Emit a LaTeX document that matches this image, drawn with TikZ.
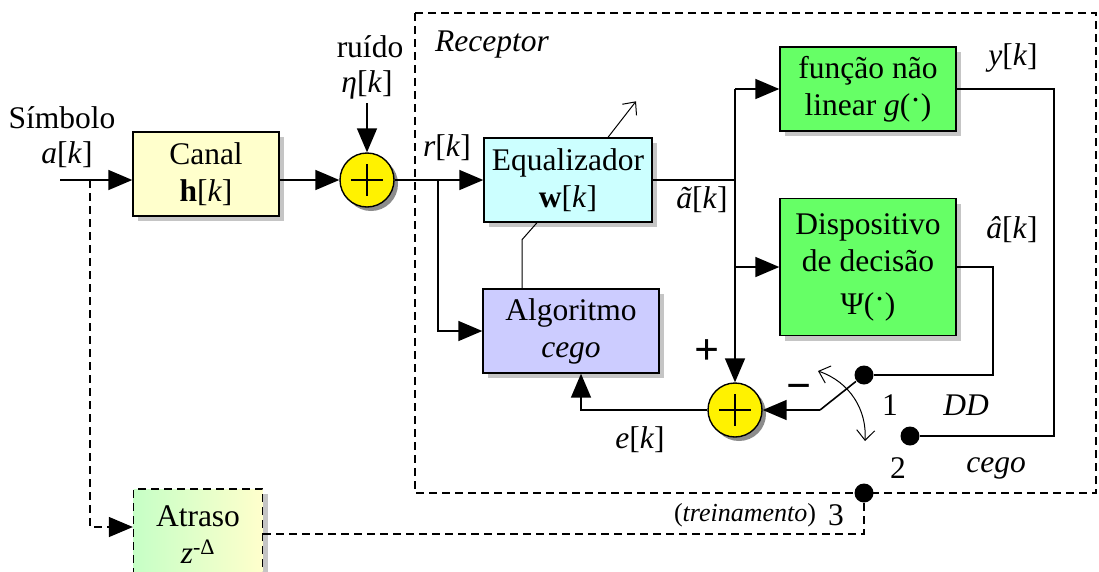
\documentclass[tikz,border=0pt]{standalone}
\usepackage{fontspec}
\setmainfont{Liberation Serif}
\usetikzlibrary{arrows.meta,shadows,calc}
\definecolor{canalc}{HTML}{FFFFCC}
\definecolor{eqc}{HTML}{CCFFFF}
\definecolor{algc}{HTML}{CCCCFF}
\definecolor{decc}{HTML}{66FF66}
\definecolor{atrl}{HTML}{C6FFC6}
\definecolor{atrr}{HTML}{FFFFCC}
\begin{document}
\begin{tikzpicture}[x=1pt,y=-1pt,
  every node/.style={font=\fontsize{31.5}{37}\selectfont},
  line width=1.6pt,
  >={Triangle[length=24pt,width=20pt]},
  blk/.style={draw,line width=1.4pt,align=center,inner sep=0pt,
    drop shadow={shadow xshift=5pt,shadow yshift=-5pt,fill=gray!90}},
  summ/.style={draw,circle,fill=yellow,minimum size=54pt,inner sep=0pt,line width=1.4pt,
    drop shadow={shadow xshift=4pt,shadow yshift=-4pt,fill=black!90}},
  dot/.style={circle,fill,inner sep=0pt,minimum size=19pt},
  thinl/.style={line width=1pt},
  dsh/.style={line width=1.3pt,dash pattern=on 8pt off 5pt}]
\useasboundingbox (0,0) rectangle (1099,571);
% receptor
\draw[dsh] (415,13) rectangle (1096,493);
\node (rec) at (492,45) {\textit{Receptor}};
% blocos
\node[blk,fill=canalc,minimum width=146pt,minimum height=84pt] (canal) at (206,174) {Canal\\\textbf{h}[\textit{k}]};
\node[summ] (s1) at (367,180) {};
\node[blk,fill=eqc,minimum width=168pt,minimum height=84pt] (eq) at (568,180) {Equalizador\\\textbf{w}[\textit{k}]};
\node[blk,fill=algc,minimum width=176pt,minimum height=84pt] (alg) at (571,331) {Algoritmo\\\textit{cego}};
\node[blk,fill=decc,minimum width=176pt,minimum height=84pt] (fnl) at (868,89) {função não\\linear \textit{g}(\raisebox{.3ex}{·})};
\node[blk,fill=decc,minimum width=176pt,minimum height=137pt] (dec) at (868,267) {Dispositivo\\de decisão\\[6pt]Ψ(\raisebox{.3ex}{·})};
\node[summ] (s2) at (735,410) {};
\node[blk,dsh,left color=atrl,right color=atrr,minimum width=129pt,minimum height=92pt] (atr) at (198,535) {Atraso\\\textit{z}\textsuperscript{-Δ}};
% sinais do somador
\foreach \s in {s1,s2}
  \draw[line width=1.2pt] (\s.center) +(-16,0) -- +(16,0) (\s.center) +(0,-16) -- +(0,16);
% rotulos
\node (simb) at (62,118) {Símbolo};
\node (ak) at (67,155) {\textit{a}[\textit{k}]};
\node (ruido) at (370,47) {ruído};
\node (eta) at (367,85) {\textit{η}[\textit{k}]};
\node (rk) at (447,148) {\textit{r}[\textit{k}]};
\node (atil) at (702,200) {\textit{ã}[\textit{k}]};
\node (yk) at (1013,58) {\textit{y}[\textit{k}]};
\node (ahat) at (1012,230) {\textit{â}[\textit{k}]};
\node[font=\fontsize{44}{44}\selectfont] (mais) at (707,352) {\textbf{+}};
\node[font=\fontsize{44}{44}\selectfont] (menos) at (799,392) {\textbf{−}};
\node (ek) at (640,440) {\textit{e}[\textit{k}]};
\node (n1) at (890,405) {1};
\node (dd) at (966,405) {\textit{DD}};
\node (n2) at (898,468) {2};
\node (cg) at (996,468) {\textit{cego}};
\node[font=\fontsize{26}{30}\selectfont] (trein) at (745,515) {(\textit{treinamento})};
\node (n3) at (836,515) {3};
% chave
\node[dot] (d1) at (864,375) {};
\node[dot] (d2) at (910,436) {};
\node[dot] (d3) at (864,493) {};
\coordinate (in) at (60,180);
\coordinate (br0) at (90,180);
\coordinate (br1) at (438,180);
\coordinate (br2) at (735,180);
\coordinate (c1) at (993,375);
\coordinate (c2) at (1054,436);
\coordinate (sw) at (820,410);
\coordinate (ca) at (818,371);
\coordinate (cb) at (865,441);
\coordinate (ain) at (90,527);
\coordinate (aout) at (864,534);
% ligacoes
\draw[->] (in) -- (canal.west |- in);
\draw[->] (canal.east |- in) -- (s1.west);
\draw[->] (eta) -- (s1.north);
\draw (s1.east) -- (br1);
\draw[->] (br1) -- (eq.west);
\draw[->] (br1) |- (alg.west);
\draw (eq.east) -- (br2);
\draw[->] (br2 |- fnl.west) -- (fnl.west);
\draw[->] (br2 |- fnl.west) -- (s2.north);
\draw[->] (br2 |- dec.west) -- (dec.west);
\draw (fnl.east) -| (c2) -- (d2);
\draw (dec.east) -| (c1) -- (d1);
\draw (d1) -- (sw);
\draw[->] (sw) -- (s2.east);
\draw[->] (s2.west) -| ($(alg.south)+(10,0)$);
\draw[thinl] ($(eq.south)+(-31,0)$) -- ++(-15,17) -- ($(alg.north)+(-49,0)$);
\draw[thinl,-{Straight Barb[length=10pt,width=18pt]}] ($(eq.north)+(40,0)$) -- ++(28,-36);
\draw[thinl,{Straight Barb[length=10pt,width=18pt]}-{Straight Barb[length=10pt,width=18pt]}] (ca) .. controls (850,382) and (867,410) .. (cb);
\draw[dsh,->] (br0) -- (ain) -- (ain -| atr.west);
\draw[dsh] (atr.east |- aout) -- (aout) -- (d3);
\end{tikzpicture}
\end{document}
